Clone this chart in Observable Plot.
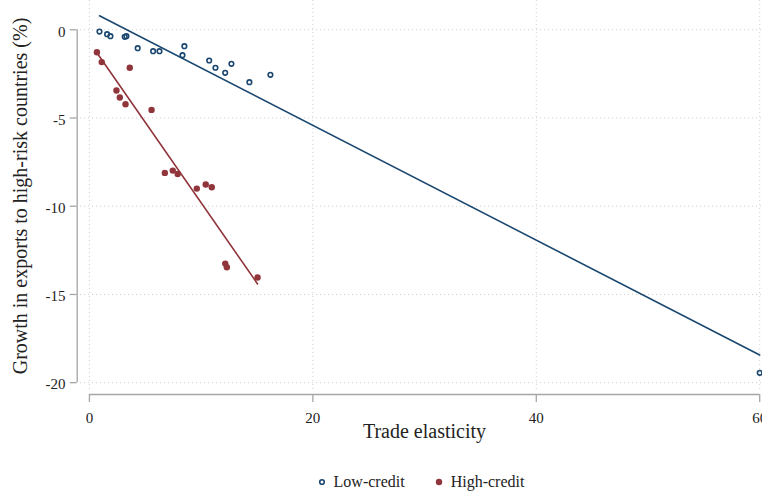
<!DOCTYPE html>
<html>
<head>
<meta charset="utf-8">
<script src="https://cdn.jsdelivr.net/npm/d3@7"></script>
<script src="https://cdn.jsdelivr.net/npm/@observablehq/plot@0.6"></script>
<style>
  body { margin: 0; background: #fff; font-family: "Liberation Serif", serif; }
  #legend { display: flex; justify-content: center; align-items: center; gap: 30px;
            margin-left: 80px; width: 682px; height: 27px; font-size: 16px; color: #222; }
  #legend .item { display: flex; align-items: center; gap: 8px; }
</style>
</head>
<body>
<div id="chart"></div>
<div id="legend"></div>
<script>
// ---- data ----
const seriesNames = ["Low-credit", "High-credit"];
const seriesColors = ["#1a476f", "#90353b"];

const lowX = [0.9, 1.58, 1.88, 3.16, 3.31, 4.32, 5.70, 6.27, 8.50, 8.33, 10.72, 11.28, 12.71, 12.15, 14.32, 16.20, 60.0];
const lowY = [-0.10, -0.25, -0.36, -0.40, -0.36, -1.04, -1.21, -1.21, -0.93, -1.44, -1.74, -2.15, -1.93, -2.44, -2.97, -2.55, -19.44];

const highX = [0.67, 1.10, 3.61, 2.42, 2.72, 3.23, 5.56, 6.75, 7.46, 7.90, 9.61, 10.41, 10.95, 12.16, 12.30, 15.05];
const highY = [-1.27, -1.83, -2.15, -3.44, -3.84, -4.22, -4.54, -8.11, -7.98, -8.17, -9.00, -8.77, -8.92, -13.25, -13.46, -14.04];

const xTicks = [0, 20, 40, 60];
const yTicks = [0, -5, -10, -15, -20];
const xLabel = "Trade elasticity";
const yLabel = "Growth in exports to high-risk countries (%)";

// ---- build table ----
const low = lowX.map((x, i) => ({x, y: lowY[i], s: seriesNames[0]}));
const high = highX.map((x, i) => ({x, y: highY[i], s: seriesNames[1]}));

const xDomain = [-0.8, 60.25];
const yDomain = [-20.5, 1.66];
const axisColor = "#a6a6a6";
const gridColor = "#cfcfcf";
const serif = "Liberation Serif";

const chart = Plot.plot({
  width: 762,
  height: 468,
  marginLeft: 80,
  marginRight: 0,
  marginTop: 0,
  marginBottom: 77,
  x: {domain: xDomain},
  y: {domain: yDomain},
  style: {fontFamily: serif, fontSize: "15px", background: "#fff", color: "#222", overflow: "hidden"},
  marks: [
    Plot.gridX(xTicks, {stroke: gridColor, strokeOpacity: 1, strokeDasharray: "1,3"}),
    Plot.gridY(yTicks, {stroke: gridColor, strokeOpacity: 1, strokeDasharray: "1,3"}),
    Plot.axisX(xTicks, {tickSize: 8, dy: 3, tickFormat: () => "", label: null, stroke: axisColor, strokeWidth: 1.3}),
    Plot.ruleY([yDomain[0]], {x1: xTicks[0], x2: xTicks[xTicks.length - 1], dy: 3, stroke: axisColor, strokeWidth: 1.3}),
    Plot.axisY(yTicks, {tickSize: 7, dx: -3.3, tickFormat: () => "", label: null, stroke: axisColor, strokeWidth: 1.3}),
    Plot.ruleX([xDomain[0]], {y1: yTicks[0], y2: yTicks[yTicks.length - 1], dx: -3.3, stroke: axisColor, strokeWidth: 1.3}),
    Plot.text(xTicks, {x: d => d, text: d => String(d), frameAnchor: "bottom", dy: 31, fontSize: 15, fontFamily: serif, fill: "#222"}),
    Plot.text(yTicks, {y: d => d, text: d => String(d), frameAnchor: "left", dx: -15, dy: 2, textAnchor: "end", fontSize: 15, fontFamily: serif, fill: "#222"}),
    Plot.dot(low, {x: "x", y: "y", r: 2.3, stroke: seriesColors[0], strokeWidth: 1.6, fill: "none"}),
    Plot.dot(high, {x: "x", y: "y", r: 3.2, fill: seriesColors[1], stroke: "none"}),
    Plot.linearRegressionY(low, {x: "x", y: "y", stroke: seriesColors[0], strokeWidth: 1.6, ci: 0}),
    Plot.linearRegressionY(high, {x: "x", y: "y", stroke: seriesColors[1], strokeWidth: 1.6, ci: 0}),
    Plot.text([yLabel], {frameAnchor: "left", rotate: -90, dx: -60, fontSize: 20, fontFamily: serif, textAnchor: "middle", fill: "#222"}),
    Plot.text([xLabel], {frameAnchor: "bottom", dy: 46, dx: 3, fontSize: 20, fontFamily: serif, textAnchor: "middle", fill: "#222"})
  ]
});
document.getElementById("chart").appendChild(chart);

// ---- legend ----
const legend = d3.select("#legend");
seriesNames.forEach((name, i) => {
  const item = legend.append("div").attr("class", "item");
  const svg = item.append("svg").attr("width", 8).attr("height", 8);
  if (i === 0) {
    svg.append("circle").attr("cx", 4).attr("cy", 4).attr("r", 2.3)
      .attr("fill", "none").attr("stroke", seriesColors[i]).attr("stroke-width", 1.6);
  } else {
    svg.append("circle").attr("cx", 4).attr("cy", 4).attr("r", 3.2).attr("fill", seriesColors[i]);
  }
  item.append("span").text(name);
});
</script>
</body>
</html>
